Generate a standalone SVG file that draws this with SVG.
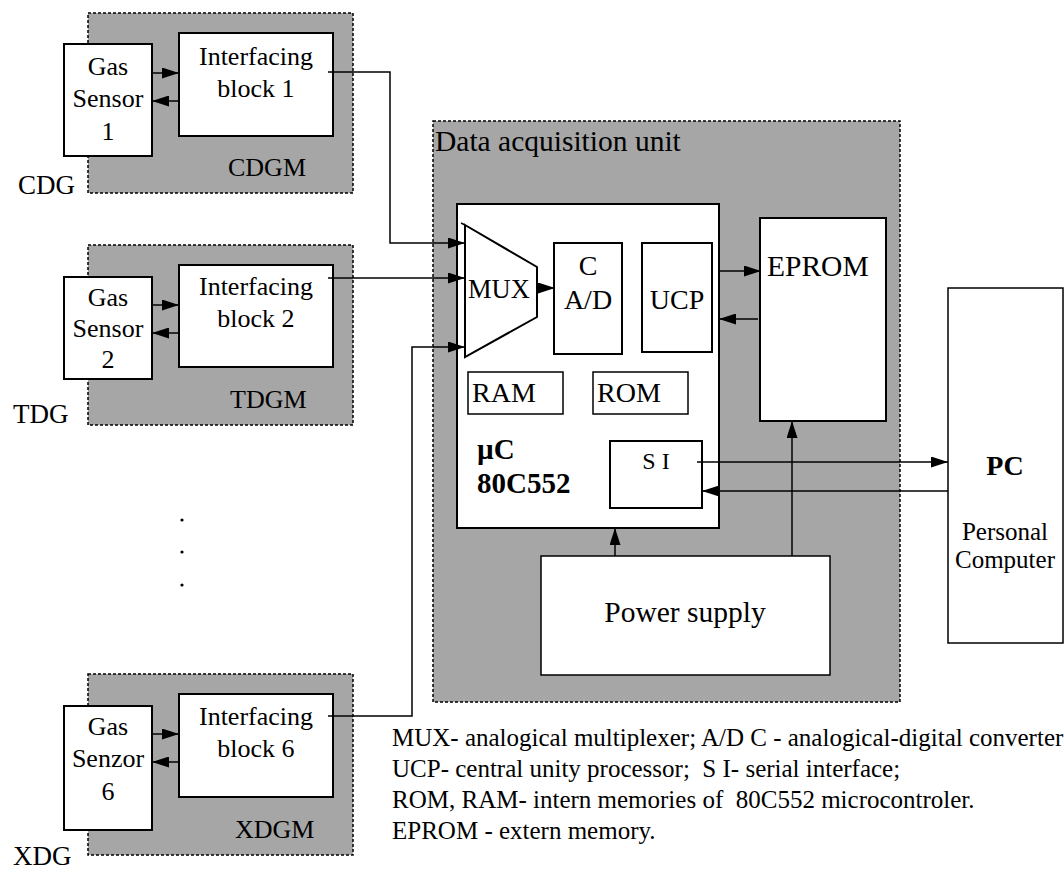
<svg xmlns="http://www.w3.org/2000/svg" width="1064" height="872" viewBox="0 0 1064 872">
<style>
text{font-family:"Liberation Serif","Times New Roman",serif;fill:#000}
.mod{fill:#a6a6a6;stroke:#000;stroke-width:1.5;stroke-dasharray:3,2}
.box{fill:#fff;stroke:#000;stroke-width:2}
.thin{fill:#fff;stroke:#000;stroke-width:1.5}
.c{text-anchor:middle}
.f26{font-size:26px}
.f28{font-size:28px}
.b{font-weight:bold}
.ln{fill:none;stroke:#000;stroke-width:1.5}
.lg{font-size:25px}
</style>
<defs>
<marker id="ah" viewBox="0 0 17 11" refX="17" refY="5.5" markerWidth="17" markerHeight="11" markerUnits="userSpaceOnUse" orient="auto">
<path d="M0,0 L17,5.5 L0,11 Z" fill="#000"/>
</marker>
</defs>

<g id="cdgm">
<rect class="mod" x="88" y="13" width="265" height="180"/>
<text class="f26" x="228" y="176">CDGM</text>
<text font-size="27" x="18" y="194">CDG</text>
</g>
<g id="tdgm">
<rect class="mod" x="88" y="245" width="265" height="180"/>
<text class="f26" x="230" y="408">TDGM</text>
<text font-size="27" x="13" y="423">TDG</text>
</g>
<g id="xdgm">
<rect class="mod" x="88" y="674" width="265" height="181"/>
<text class="f26" x="235" y="838">XDGM</text>
<text font-size="27" x="13" y="865">XDG</text>
</g>
<g id="dau">
<rect class="mod" x="433" y="121" width="467" height="581"/>
<text font-size="29.5" x="435" y="151">Data acquisition unit</text>
</g>

<g id="sensor1">
<rect class="box" x="64" y="44" width="88" height="112"/>
<text class="f26 c" x="108" y="75">Gas</text>
<text class="f26 c" x="108" y="107">Sensor</text>
<text class="f26 c" x="108" y="140">1</text>
</g>
<g id="block1">
<rect class="box" x="179" y="33" width="154" height="103"/>
<text class="f26 c" x="256" y="65">Interfacing</text>
<text class="f26 c" x="256" y="97">block 1</text>
</g>
<g id="sensor2">
<rect class="box" x="64" y="277" width="88" height="102"/>
<text class="f26 c" x="108" y="306">Gas</text>
<text class="f26 c" x="108" y="337">Sensor</text>
<text class="f26 c" x="108" y="368">2</text>
</g>
<g id="block2">
<rect class="box" x="179" y="265" width="154" height="102"/>
<text class="f26 c" x="256" y="295">Interfacing</text>
<text class="f26 c" x="256" y="327">block 2</text>
</g>
<g id="sensor6">
<rect class="box" x="64" y="706" width="88" height="124"/>
<text class="f26 c" x="108" y="735">Gas</text>
<text class="f26 c" x="108" y="767">Senzor</text>
<text class="f26 c" x="108" y="800">6</text>
</g>
<g id="block6">
<rect class="box" x="179" y="694" width="154" height="103"/>
<text class="f26 c" x="256" y="725">Interfacing</text>
<text class="f26 c" x="256" y="757">block 6</text>
</g>

<g id="dots">
<circle cx="182" cy="520" r="1.6" fill="#000"/>
<circle cx="182" cy="552" r="1.6" fill="#000"/>
<circle cx="182" cy="585" r="1.6" fill="#000"/>
</g>

<g id="uc">
<rect class="box" x="457" y="204" width="262" height="324"/>
<text class="b" font-size="29" x="477" y="459">µC</text>
<text class="b" font-size="29" x="477" y="493">80C552</text>
</g>
<g id="mux">
<polygon points="465,225 537,267 537,317 465,357" fill="#fff" stroke="#000" stroke-width="2"/>
<line x1="461" y1="223" x2="465" y2="225" stroke="#000" stroke-width="1.5"/>
<text font-size="26.5" x="468" y="298">MUX</text>
</g>
<g id="adc">
<rect class="box" x="554" y="243" width="68" height="111"/>
<text class="f28 c" x="588" y="275">C</text>
<text class="f28 c" x="588" y="309">A/D</text>
</g>
<g id="ucp">
<rect class="box" x="642" y="243" width="70" height="109"/>
<text class="f28 c" x="677" y="309">UCP</text>
</g>
<g id="ram">
<rect class="thin" x="468" y="372" width="95" height="42"/>
<text class="f28" x="472" y="402">RAM</text>
</g>
<g id="rom">
<rect class="thin" x="593" y="372" width="95" height="42"/>
<text class="f28" x="597" y="402">ROM</text>
</g>
<g id="si">
<rect class="box" x="610" y="441" width="92" height="67"/>
<text class="c" font-size="24" x="656" y="469" xml:space="preserve">S I</text>
</g>
<g id="eprom">
<rect class="box" x="760" y="218" width="126" height="203"/>
<text font-size="29.5" x="767" y="276">EPROM</text>
</g>
<g id="power">
<rect class="thin" x="541" y="556" width="289" height="119"/>
<text class="c" font-size="29.5" x="685" y="622">Power supply</text>
</g>
<g id="pc">
<rect class="thin" x="948" y="288" width="115" height="355"/>
<text class="f28 b c" x="1005" y="475">PC</text>
<text class="c" font-size="25" x="1005" y="540">Personal</text>
<text class="c" font-size="25" x="1005" y="568">Computer</text>
</g>

<g id="connectors" class="ln">
<line x1="152" y1="73" x2="179" y2="73" marker-end="url(#ah)"/>
<line x1="179" y1="101" x2="152" y2="101" marker-end="url(#ah)"/>
<line x1="152" y1="305" x2="179" y2="305" marker-end="url(#ah)"/>
<line x1="179" y1="333" x2="152" y2="333" marker-end="url(#ah)"/>
<line x1="152" y1="734" x2="179" y2="734" marker-end="url(#ah)"/>
<line x1="179" y1="762" x2="152" y2="762" marker-end="url(#ah)"/>
<polyline points="328,72 390,72 390,243 465,243" marker-end="url(#ah)"/>
<line x1="328" y1="278" x2="465" y2="278" marker-end="url(#ah)"/>
<polyline points="328,716 412,716 412,347 465,347" marker-end="url(#ah)"/>
<line x1="537" y1="288" x2="555" y2="288" marker-end="url(#ah)"/>
<line x1="719" y1="271" x2="761" y2="271" marker-end="url(#ah)"/>
<line x1="758" y1="319" x2="719" y2="319" marker-end="url(#ah)"/>
<line x1="697" y1="462" x2="948" y2="462" marker-end="url(#ah)"/>
<line x1="948" y1="491" x2="702" y2="491" marker-end="url(#ah)"/>
<line x1="615" y1="556" x2="615" y2="528" marker-end="url(#ah)"/>
<line x1="792" y1="556" x2="792" y2="421" marker-end="url(#ah)"/>
</g>

<g id="legend">
<text class="lg" x="392" y="746" xml:space="preserve">MUX- analogical multiplexer; A/D C - analogical-digital converter</text>
<text class="lg" x="392" y="777" xml:space="preserve">UCP- central unity processor;  S I- serial interface;</text>
<text class="lg" x="392" y="808" xml:space="preserve">ROM, RAM- intern memories of  80C552 microcontroler.</text>
<text class="lg" x="392" y="839" xml:space="preserve">EPROM - extern memory.</text>
</g>
</svg>
